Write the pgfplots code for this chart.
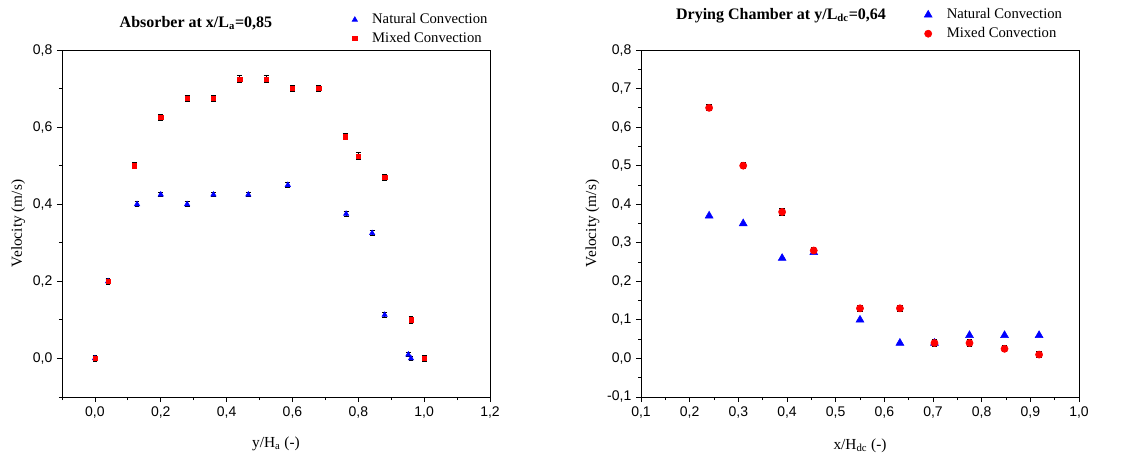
\documentclass[border=0pt]{standalone}
\usepackage{pgfplots}
\pgfplotsset{compat=1.18}
\usepackage{fontspec}
\setmainfont{Liberation Serif}
\setsansfont{Liberation Sans}

\definecolor{natBlue}{RGB}{0,0,255}
\definecolor{mixRed}{RGB}{255,0,0}

\pgfplotsset{
  velo/.style={
    scale only axis,
    height=260.25pt,
    axis line style={black, line width=0.6pt},
    tick align=outside,
    xtick pos=bottom, ytick pos=left,
    major tick length=3.75pt, minor tick length=2.25pt,
    tick style={black, line width=0.6pt},
    ticklabel style={font=\sffamily\fontsize{10.5}{12}\selectfont},
    /pgf/number format/assume math mode=true,
    /pgf/number format/.cd, fixed, fixed zerofill, precision=1, use comma,
    /pgfplots/.cd,
    label style={font=\fontsize{11.5}{13}\selectfont},
    title style={font=\bfseries\fontsize{12}{14}\selectfont, anchor=base},
    legend style={draw=none, fill=none, font=\fontsize{11}{14.25}\selectfont,
      anchor=north west, row sep=1pt,
      /tikz/every odd column/.append style={column sep=9pt}},
    legend cell align=left,
    error bars/error bar style={black, line width=0.7pt},
    error bars/error mark options={rotate=90, mark size=1.8pt, black, line width=0.7pt},
  }
}

\begin{document}
\begin{tikzpicture}
\useasboundingbox (0,0) rectangle (859.5pt,340.5pt);

% left: absorber
\begin{axis}[velo,
  at={(46.5pt,42.75pt)}, anchor=south west,
  width=321pt,
  xmin=-0.1, xmax=1.2, ymin=-0.1, ymax=0.8,
  xtick={0,0.2,...,1.2}, minor xtick={-0.1,0.1,0.3,0.5,0.7,0.9,1.1},
  ytick={0,0.2,...,0.8}, minor ytick={-0.1,0.1,0.3,0.5,0.7},
  title={Absorber at x/L\textsubscript{a}=0,85},
  title style={at={(0.313,1)}, yshift=11.25pt},
  xlabel={y/H\textsubscript{a} (-)},
  xlabel style={at={(0.5,0)}, anchor=base, yshift=-37.5pt},
  ylabel={Velocity (m/s)},
  ylabel style={at={(-0.0935,0.5)}, anchor=base, rotate=0},
  legend style={at={(0.668,1.121)}},
]
\addplot[only marks, mark=triangle*, mark size=2.3pt, color=natBlue,
  error bars/.cd, y dir=both, y fixed=0.006] coordinates {
  (0,0) (0.04,0.2) (0.128,0.40) (0.20,0.425) (0.28,0.40) (0.36,0.425)
  (0.466,0.425) (0.586,0.45) (0.763,0.375) (0.842,0.325) (0.88,0.113)
  (0.952,0.01) (0.96,0.0)
};
\addlegendentry{Natural Convection}
\addplot[only marks, mark=square*, mark size=1.6pt, color=mixRed,
  error bars/.cd, y dir=both, y fixed=0.008] coordinates {
  (0,0) (0.04,0.2) (0.12,0.50) (0.20,0.625) (0.28,0.675) (0.36,0.675)
  (0.44,0.725) (0.52,0.725) (0.60,0.70) (0.68,0.70) (0.76,0.575)
  (0.80,0.525) (0.88,0.47) (0.96,0.10) (1.0,0.0)
};
\addlegendentry{Mixed Convection}
\end{axis}

% right: drying chamber
\begin{axis}[velo,
  at={(480.75pt,42.75pt)}, anchor=south west,
  width=328.5pt,
  xmin=0.1, xmax=1.0, ymin=-0.1, ymax=0.8,
  xtick={0.1,0.2,...,1.0}, minor x tick num=1,
  ytick={-0.1,0,...,0.8}, minor y tick num=1,
  title={Drying Chamber at y/L\textsubscript{dc}=0,64},
  title style={at={(0.3196,1)}, yshift=17.25pt},
  xlabel={x/H\textsubscript{dc} (-)},
  xlabel style={at={(0.5,0)}, anchor=base, yshift=-39pt},
  ylabel={Velocity (m/s)},
  ylabel style={at={(-0.1027,0.5)}, anchor=base, rotate=0},
  legend style={at={(0.637,1.135)}},
]
\addplot[only marks, mark=triangle*, mark size=3.4pt, color=natBlue] coordinates {
  (0.24,0.37) (0.31,0.35) (0.39,0.26) (0.455,0.275) (0.55,0.10)
  (0.632,0.04) (0.703,0.04) (0.775,0.06) (0.847,0.06) (0.918,0.06)
};
\addlegendentry{Natural Convection}
\addplot[only marks, mark=*, mark size=2.7pt, color=mixRed] coordinates {
  (0.24,0.65) (0.31,0.50) (0.39,0.38) (0.455,0.28) (0.55,0.13)
  (0.632,0.13) (0.703,0.04) (0.775,0.04) (0.847,0.025) (0.918,0.01)
};
\addlegendentry{Mixed Convection}
% error bars of the mixed series, drawn over the circles
\addplot[forget plot, draw=none, mark=none,
  error bars/.cd, y dir=both, y fixed=0.008,
  error bar style={draw=black, line width=0.7pt},
  error mark options={rotate=90, mark size=2.0pt, draw=black, line width=0.7pt}] coordinates {
  (0.24,0.65) (0.31,0.50) (0.39,0.38) (0.455,0.28) (0.55,0.13)
  (0.632,0.13) (0.703,0.04) (0.775,0.04) (0.847,0.025) (0.918,0.01)
};
\end{axis}
\end{tikzpicture}
\end{document}
